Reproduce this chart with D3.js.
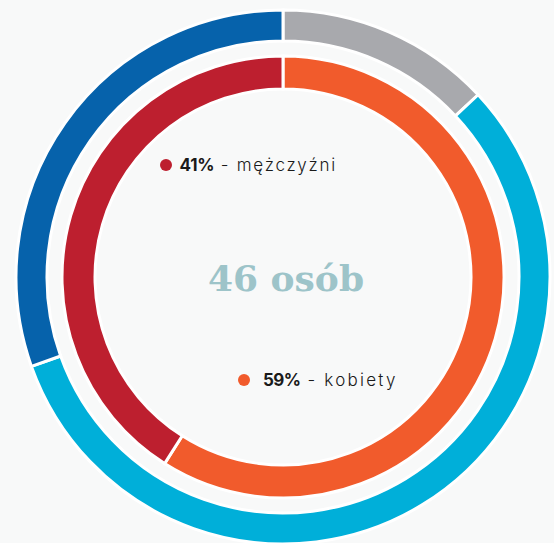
<!DOCTYPE html>
<html><head><meta charset="utf-8">
<script src="https://cdn.jsdelivr.net/npm/d3@7"></script>
<style>
html,body{margin:0;padding:0;background:#f8f9f9;}
svg{display:block;}
</style></head>
<body>
<svg id="chart" width="554" height="543"></svg>
<script>
const outerValues = [6, 26, 14];
const outerColors = ["#a8a9ad", "#00afd9", "#0662ab"];
const innerCategories = ["kobiety", "mężczyźni"];
const innerValues = [59, 41];
const innerColors = ["#f15b2c", "#bd1f2f"];
const centerLabel = "46 osób";

const svg = d3.select("#chart");
const cx = 283, cy = 277;
const g = svg.append("g").attr("transform", `translate(${cx},${cy})`);

const pie = d3.pie().sort(null).value(d => d);

const outerArc = d3.arc().innerRadius(236).outerRadius(267);
const innerArc = d3.arc().innerRadius(188).outerRadius(221);

g.selectAll("path.outer").data(pie(outerValues)).join("path")
  .attr("class", "outer")
  .attr("d", outerArc)
  .attr("fill", (d, i) => outerColors[i])
  .attr("stroke", "#ffffff").attr("stroke-width", 3);

g.selectAll("path.inner").data(pie(innerValues)).join("path")
  .attr("class", "inner")
  .attr("d", innerArc)
  .attr("fill", (d, i) => innerColors[i])
  .attr("stroke", "#ffffff").attr("stroke-width", 3);

svg.append("text")
  .attr("x", 286).attr("y", 291)
  .attr("text-anchor", "middle")
  .attr("font-family", "'DejaVu Serif', 'Liberation Serif', serif")
  .attr("font-weight", "bold")
  .attr("font-size", 36)
  .attr("fill", "#9dc4c9")
  .text(centerLabel);

const labels = [
  {i: 1, dx: 166, dy: 165, off: 13.5, boldLen: 35, lightLen: 121},
  {i: 0, dx: 244, dy: 380, off: 19, boldLen: 38, lightLen: 95}
];
labels.forEach(l => {
  svg.append("circle").attr("cx", l.dx).attr("cy", l.dy).attr("r", 6)
    .attr("fill", innerColors[l.i]);
  const t = svg.append("text")
    .attr("x", l.dx + l.off).attr("y", l.dy + 6)
    .attr("font-family", "Inter, 'Open Sans', sans-serif")
    .attr("font-size", 17)
    .attr("fill", "#1a1a1a");
  t.append("tspan").attr("font-weight", 700)
    .attr("textLength", l.boldLen).attr("lengthAdjust", "spacing")
    .text(innerValues[l.i] + "%");
  t.append("tspan").attr("font-weight", 300)
    .attr("textLength", l.lightLen).attr("lengthAdjust", "spacing")
    .text(" - " + innerCategories[l.i]);
});
</script>
</body></html>
